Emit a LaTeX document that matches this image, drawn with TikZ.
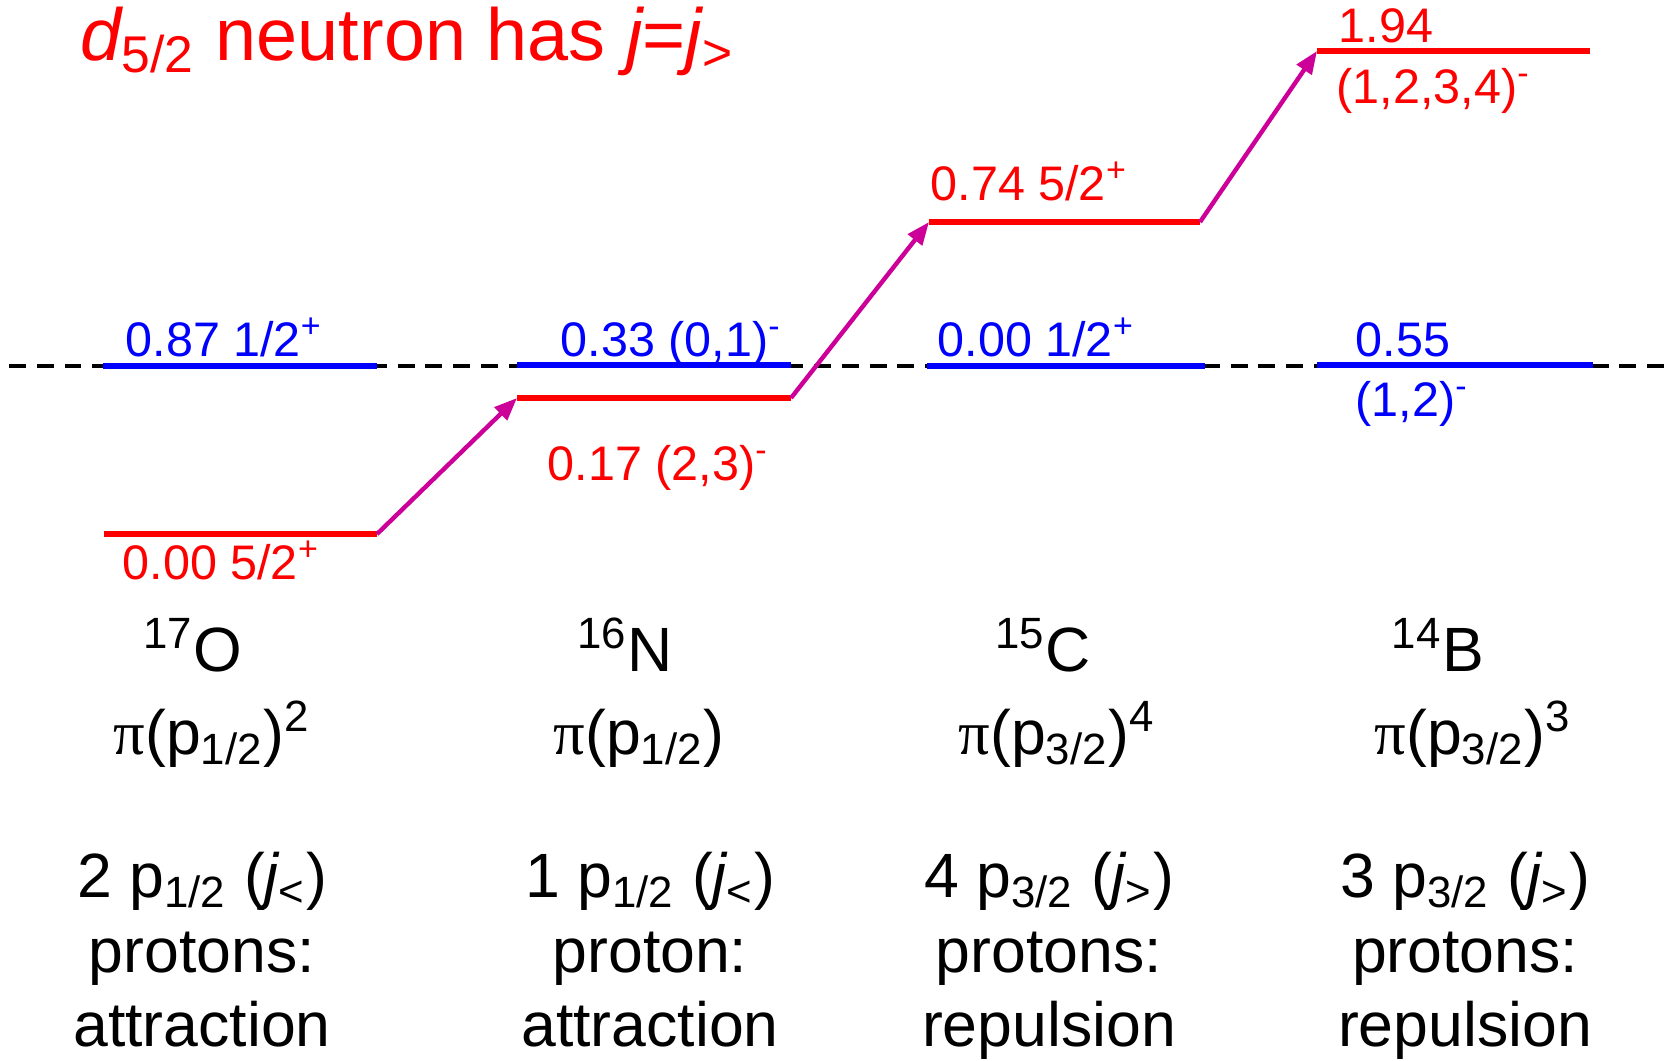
\documentclass[tikz,border=0pt]{standalone}
\usepackage{fontspec}
\setmainfont{Liberation Sans}
\newfontfamily\grkfont{Liberation Serif}
\usetikzlibrary{arrows.meta}
\definecolor{jumpmag}{RGB}{204,0,153}
\begin{document}
\begin{tikzpicture}[x=0.1mm,y=-0.1mm,
  lvred/.style = {draw=red, line width=1.6pt},
  lvblue/.style = {draw=blue, line width=1.6pt},
  jump/.style = {draw=jumpmag, line width=1.25pt, -{Triangle[length=6.5pt,width=5pt]}},
  lbl/.style = {anchor=base west, inner sep=0pt, font=\fontsize{13.8}{16}\selectfont},
  bot/.style = {anchor=base, inner sep=0pt, font=\fontsize{17.8}{21}\selectfont}]
\useasboundingbox (0,0) rectangle (1665,1060);
% reference line
\coordinate (d1) at (9,366); \coordinate (d2) at (1665,366);
\draw [line width=1.25pt, dash pattern=on 4.8pt off 3.1pt] (d1) -- (d2);
% levels
\coordinate (Ob1) at (103,366); \coordinate (Ob2) at (377,366); \coordinate (Or1) at (104,534); \coordinate (Or2) at (377,534);
\coordinate (Nb1) at (517,365); \coordinate (Nb2) at (791,365); \coordinate (Nr1) at (517,398); \coordinate (Nr2) at (791,398);
\coordinate (Cb1) at (927,366); \coordinate (Cb2) at (1205,366); \coordinate (Cr1) at (929,222); \coordinate (Cr2) at (1200,222);
\coordinate (Bb1) at (1317,365); \coordinate (Bb2) at (1593,365); \coordinate (Br1) at (1317,51); \coordinate (Br2) at (1590,51);
\draw [lvblue] (Ob1) -- (Ob2); \draw [lvblue] (Nb1) -- (Nb2); \draw [lvblue] (Cb1) -- (Cb2); \draw [lvblue, line width=1.9pt] (Bb1) -- (Bb2);
\draw [lvred] (Or1) -- (Or2); \draw [lvred] (Nr1) -- (Nr2); \draw [lvred] (Cr1) -- (Cr2); \draw [lvred] (Br1) -- (Br2);
\draw [jump] (Or2) -- (Nr1); \draw [jump] (Nr2) -- (Cr1); \draw [jump] (Cr2) -- (Br1);
% level labels
\node[lbl, text=blue](lOb) at (125,356) {0.87 1/2\textsuperscript{+}}; \node[lbl, text=red](lOr) at (122,579) {0.00 5/2\textsuperscript{+}};
\node[lbl, text=blue](lNb) at (560,356) {0.33 (0,1)\textsuperscript{-}}; \node[lbl, text=red](lNr) at (547,480) {0.17 (2,3)\textsuperscript{-}};
\node[lbl, text=blue](lCb) at (937,356) {0.00 1/2\textsuperscript{+}}; \node[lbl, text=red](lCr) at (930,200) {0.74 5/2\textsuperscript{+}};
\node[lbl, text=blue](lBb) at (1355,356) {0.55}; \node[lbl, text=blue](lBb2) at (1355,416) {(1,2)\textsuperscript{-}};
\node[lbl, text=red](lBr) at (1338,42) {1.94}; \node[lbl, text=red](lBr2) at (1336,103) {(1,2,3,4)\textsuperscript{-}};
% title
\node[anchor=base west, inner sep=0pt, text=red, font=\fontsize{21}{25}\selectfont](title) at (80,60) {{\itshape d}\textsubscript{5/2} neutron has {\itshape j}={\itshape j}\textsubscript{>}};
% nuclei
\node[bot](O) at (193,671) {\textsuperscript{17}O}; \node[bot](N) at (625,671) {\textsuperscript{16}N}; \node[bot](C) at (1043,671) {\textsuperscript{15}C}; \node[bot](B) at (1438,671) {\textsuperscript{14}B};
\node[bot](Opi) at (212,754) {{\grkfont π}(p\textsubscript{1/2})\textsuperscript{2}}; \node[bot](Npi) at (639,754) {{\grkfont π}(p\textsubscript{1/2})};
\node[bot](Cpi) at (1057,754) {{\grkfont π}(p\textsubscript{3/2})\textsuperscript{4}}; \node[bot](Bpi) at (1473,754) {{\grkfont π}(p\textsubscript{3/2})\textsuperscript{3}};
% proton counts
\node[bot](O1) at (202,897) {2 p\textsubscript{1/2} ({\itshape j}\textsubscript{<})}; \node[bot](O2) at (202,972) {protons:}; \node[bot](O3) at (202,1046) {attraction};
\node[bot](N1) at (650,897) {1 p\textsubscript{1/2} ({\itshape j}\textsubscript{<})}; \node[bot](N2) at (650,972) {proton:}; \node[bot](N3) at (650,1046) {attraction};
\node[bot](C1) at (1049,897) {4 p\textsubscript{3/2} ({\itshape j}\textsubscript{>})}; \node[bot](C2) at (1049,972) {protons:}; \node[bot](C3) at (1049,1046) {repulsion};
\node[bot](B1) at (1465,897) {3 p\textsubscript{3/2} ({\itshape j}\textsubscript{>})}; \node[bot](B2) at (1465,972) {protons:}; \node[bot](B3) at (1465,1046) {repulsion};
\end{tikzpicture}
\end{document}
